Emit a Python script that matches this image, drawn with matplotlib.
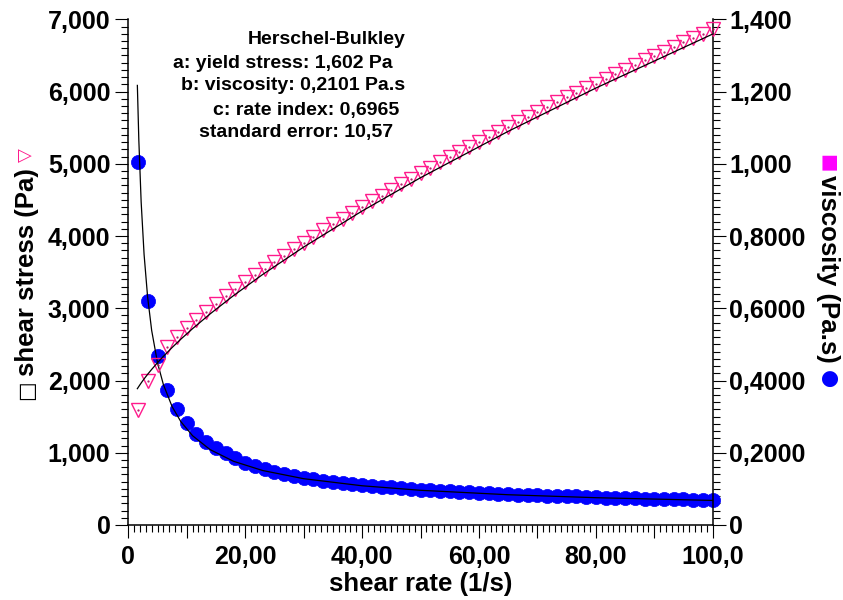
import matplotlib
matplotlib.use("Agg")
import matplotlib.pyplot as plt
from matplotlib.ticker import MultipleLocator

plt.rcParams['font.family'] = ['Liberation Sans', 'DejaVu Sans']
plt.rcParams['font.weight'] = 'bold'

# === data ===
shear_rate = [1.67, 3.33, 5.00, 6.67, 8.33, 10.00, 11.67, 13.33, 15.00, 16.67,
              18.33, 20.00, 21.67, 23.33, 25.00, 26.67, 28.33, 30.00, 31.67, 33.33,
              35.00, 36.67, 38.33, 40.00, 41.67, 43.33, 45.00, 46.67, 48.33, 50.00,
              51.67, 53.33, 55.00, 56.67, 58.33, 60.00, 61.67, 63.33, 65.00, 66.67,
              68.33, 70.00, 71.67, 73.33, 75.00, 76.67, 78.33, 80.00, 81.67, 83.33,
              85.00, 86.67, 88.33, 90.00, 91.67, 93.33, 95.00, 96.67, 98.33, 100.0]

shear_stress = [1.59, 1.99, 2.22, 2.46, 2.60, 2.72, 2.84, 2.95, 3.06, 3.17,
                3.27, 3.37, 3.46, 3.55, 3.64, 3.73, 3.82, 3.91, 3.99, 4.08,
                4.16, 4.24, 4.32, 4.40, 4.48, 4.56, 4.64, 4.72, 4.79, 4.87,
                4.94, 5.02, 5.09, 5.16, 5.23, 5.30, 5.37, 5.44, 5.51, 5.58,
                5.65, 5.72, 5.78, 5.85, 5.92, 5.98, 6.05, 6.11, 6.18, 6.24,
                6.30, 6.37, 6.43, 6.49, 6.55, 6.62, 6.68, 6.74, 6.80, 6.87]

viscosity = [1.006, 0.621, 0.468, 0.374, 0.320, 0.283, 0.252, 0.231, 0.212, 0.198,
             0.185, 0.173, 0.163, 0.155, 0.148, 0.142, 0.136, 0.131, 0.127, 0.123,
             0.119, 0.116, 0.113, 0.110, 0.108, 0.106, 0.104, 0.102, 0.100, 0.098,
             0.096, 0.095, 0.093, 0.092, 0.090, 0.089, 0.088, 0.087, 0.085, 0.084,
             0.083, 0.082, 0.081, 0.080, 0.079, 0.079, 0.078, 0.077, 0.076, 0.075,
             0.075, 0.074, 0.073, 0.073, 0.072, 0.071, 0.071, 0.070, 0.070, 0.069]

# Herschel-Bulkley fit curves
fit_rate = [1.55, 1.8, 2.2, 2.7, 3.3, 4.0, 5.0, 6.0, 7.5, 9.0,
            11.0, 14.0, 18.0, 23.0, 30.0, 40.0, 50.0, 65.0, 80.0, 100.0]
fit_stress = [1.887, 1.918, 1.966, 2.022, 2.085, 2.154, 2.247, 2.334, 2.457, 2.573,
              2.718, 2.922, 3.175, 3.468, 3.847, 4.346, 4.807, 5.449, 6.048, 6.796]
fit_visc = [1.217, 1.066, 0.894, 0.749, 0.632, 0.5385, 0.449, 0.389, 0.3276, 0.2859,
            0.2471, 0.2087, 0.1764, 0.1508, 0.1282, 0.1086, 0.0961, 0.0838, 0.0756, 0.0680]

x_ticks = [0, 10, 20, 30, 40, 50, 60, 70, 80, 90, 100]
x_tick_labels = ["0", "", "20,00", "", "40,00", "", "60,00", "", "80,00", "", "100,0"]
left_ticks = [0, 1, 2, 3, 4, 5, 6, 7]
left_tick_labels = ["0", "1,000", "2,000", "3,000", "4,000", "5,000", "6,000", "7,000"]
right_ticks = [0, 0.2, 0.4, 0.6, 0.8, 1.0, 1.2, 1.4]
right_tick_labels = ["0", "0,2000", "0,4000", "0,6000", "0,8000", "1,000", "1,200", "1,400"]

fit_text = ["Herschel-Bulkley", "a: yield stress: 1,602 Pa", "b: viscosity: 0,2101 Pa.s",
            "c: rate index: 0,6965", "standard error: 10,57"]

PINK = '#ff1a8c'
BLUE = '#0000ff'
W, H = 843, 600

# === figure ===
fig = plt.figure(figsize=(W / 100, H / 100), dpi=100)
ax = fig.add_axes([128.3 / W, 1 - 525 / H, (712.7 - 128.3) / W, (525 - 19.3) / H])
ax2 = ax.twinx()
ax.set_zorder(ax2.get_zorder() + 1)
ax.patch.set_visible(False)

# viscosity on the right axis
ax2.plot(shear_rate, viscosity, 'o', color=BLUE, ms=10.2, mec=BLUE, mew=0.5, clip_on=False)
ax2.plot(fit_rate, fit_visc, color='black', lw=0.9, clip_on=False)

# shear stress on the left axis
ax.plot(shear_rate, shear_stress, 'v', mfc='none', mec=PINK, ms=10, mew=1.0, clip_on=False)
ax.plot(shear_rate, shear_stress, '.', color='#b0105f', ms=1.2, clip_on=False)
ax.plot(fit_rate, fit_stress, color='black', lw=0.9, clip_on=False)

ax.set_xlim(0, 100)
ax.set_ylim(0, 7)
ax2.set_ylim(0, 1.4)

ax.set_xticks(x_ticks, x_tick_labels)
ax.xaxis.set_minor_locator(MultipleLocator(1))
ax.set_yticks(left_ticks, left_tick_labels)
ax.yaxis.set_minor_locator(MultipleLocator(0.1))
ax2.set_yticks(right_ticks, right_tick_labels)
ax2.yaxis.set_minor_locator(MultipleLocator(0.02))

for a in (ax, ax2):
    a.spines['top'].set_visible(False)
    for s in a.spines.values():
        s.set_linewidth(1.1)
ax.spines['right'].set_visible(False)
ax2.spines['left'].set_visible(False)
ax2.spines['bottom'].set_visible(False)

ax.tick_params(axis='both', which='major', direction='out', length=9.4, width=0.8, labelsize=18)
ax.tick_params(axis='both', which='minor', direction='out', length=5, width=0.8)
ax.tick_params(axis='x', which='major', pad=5)
ax.tick_params(axis='y', which='major', pad=3.5)
ax2.tick_params(axis='y', which='major', direction='out', length=9.4, width=0.8, labelsize=18, pad=2.6)
ax2.tick_params(axis='y', which='minor', direction='out', length=5, width=0.8)

# axis titles built from pieces so the symbols can be coloured
fig.text(420.5 / W, 1 - 591 / H, "shear rate (1/s)", ha='center', va='baseline', fontsize=18.5)

fig.text(27 / W, 1 - 272 / H, "shear stress (Pa)", rotation=90, ha='center', va='center', fontsize=18.5)
fig.text(26 / W, 1 - 390 / H, "\u25a1", rotation=90, ha='center', va='center',
         fontsize=15, fontweight='normal', family='DejaVu Sans')
fig.text(25 / W, 1 - 155 / H, "\u25bd", rotation=90, ha='center', va='center',
         fontsize=13, fontweight='normal', color=PINK, family='DejaVu Sans')

fig.text(828 / W, 1 - 268.5 / H, "viscosity (Pa.s)", rotation=270, ha='center', va='center', fontsize=18.5)
fig.text(828 / W, 1 - 163 / H, "\u25a0", rotation=270, ha='center', va='center',
         fontsize=14, color='#ff00ff', family='DejaVu Sans')
fig.text(829 / W, 1 - 379 / H, "\u25cf", rotation=270, ha='center', va='center',
         fontsize=15, color=BLUE, family='DejaVu Sans')

# fit summary
text_right = [406, 393, 405, 399, 393]
text_y = [40, 63, 86, 110, 133]
for line, xr, yc in zip(fit_text, text_right, text_y):
    fig.text(xr / W, 1 - yc / H, line, ha='right', va='center', fontsize=14)

fig.savefig("out.png", dpi=100)
